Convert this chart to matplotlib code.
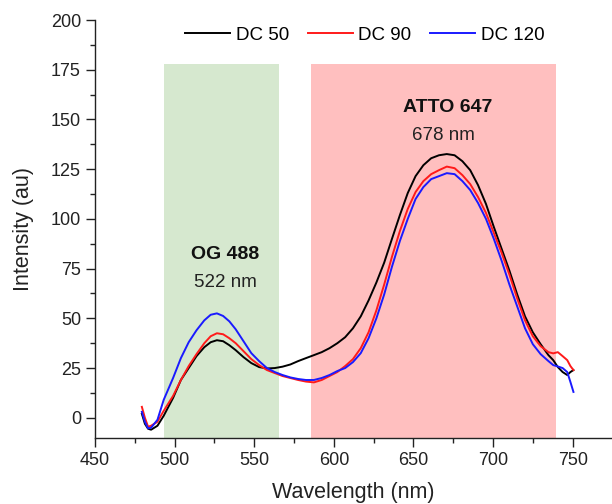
import matplotlib
matplotlib.use("Agg")
import matplotlib.pyplot as plt
from matplotlib.ticker import MultipleLocator

plt.rcParams['font.family'] = ['Liberation Sans', 'DejaVu Sans']

wavelength = [479.5, 481.4, 483.4, 485.3, 489.3, 493.2, 499.1, 504.0, 508.9, 513.8, 518.7, 522.7,
              526.6, 530.5, 534.4, 538.4, 543.3, 548.2, 553.1, 558.0, 562.9, 567.8, 572.7, 577.6,
              582.5, 587.5, 592.4, 597.3, 602.2, 607.1, 612.0, 616.9, 621.8, 626.7, 631.6, 636.5,
              641.5, 646.4, 651.3, 656.2, 661.1, 666.0, 670.9, 675.8, 680.7, 685.6, 690.5, 695.5,
              700.4, 705.3, 710.2, 715.1, 720.0, 724.9, 729.8, 734.7, 737.7, 740.6, 743.6, 746.5,
              748.5, 750.4]

dc50 = [2, -3, -5.5, -6, -4, 1, 10, 19, 25, 31, 35.5, 38, 39, 38.5, 36.5, 34,
        30.5, 27.5, 25.5, 24.8, 25, 25.7, 26.8, 28.5, 30, 31.5, 33, 35, 37.5, 40.5, 45, 51,
        59, 68, 78, 90, 102, 113, 121.5, 127, 130.5, 132, 132.6, 132, 129, 124.5, 117, 107.5,
        96, 85, 74, 62, 51, 43, 37, 31.5, 29, 25.5, 23, 21.5, 23, 24]

dc90 = [5.5, 0, -4.5, -4, -2, 3.5, 11, 19, 26, 32, 37.5, 41, 42.5, 42, 40, 37.5,
        33.5, 29.5, 26.5, 24, 22.5, 21, 20, 19, 18.2, 17.8, 19, 21, 23, 26, 29.5, 35,
        43, 54, 67, 81, 94, 105, 113.5, 119, 122.5, 124.5, 126.3, 125.5, 122, 117.5, 111, 103,
        93, 83, 72, 60, 49, 41, 36, 33, 32.4, 33, 31, 29, 26, 24]

dc120 = [3, -2, -5.3, -5, -1, 9, 20, 30, 38, 44, 49, 51.8, 52.5, 51.2, 48.5, 44.5,
         38.5, 32.5, 28.5, 25, 23, 21.5, 20.3, 19.5, 19, 19, 20, 21.5, 23.5, 25, 28, 32.5,
         40, 50, 62, 76, 89, 100, 110, 116, 120, 121.5, 123, 122.5, 119, 114.5, 108, 100,
         90, 79, 67, 56, 45, 37, 32, 28.5, 26.5, 25.8, 25, 23, 18, 13]

series_labels = ["DC 50", "DC 90", "DC 120"]
series_colors = ["black", "#ff1a1a", "#1a1aff"]

og_band = (493.4, 565.7)
atto_band = (585.9, 739.5)
band_top = 178

fig = plt.figure(figsize=(6.12, 5.04), dpi=100)
ax = fig.add_axes([0.155, 0.1316, 0.845, 0.8287])

ax.fill_between(og_band, -10, band_top, color="#d6e8cf", linewidth=0, zorder=0)
ax.fill_between(atto_band, -10, band_top, color="#ffbfbf", linewidth=0, zorder=0)

for ys, lab, col in zip([dc50, dc90, dc120], series_labels, series_colors):
    ax.plot(wavelength, ys, color=col, lw=1.4, label=lab, zorder=2)

ax.set_xlim(450, 774.6)
ax.set_ylim(-10, 200)
ax.xaxis.set_major_locator(MultipleLocator(50))
ax.xaxis.set_minor_locator(MultipleLocator(25))
ax.yaxis.set_major_locator(MultipleLocator(25))
ax.yaxis.set_minor_locator(MultipleLocator(12.5))
ax.tick_params(which='major', direction='out', length=6.5, width=1, labelsize=13, colors='#222222')
ax.tick_params(which='minor', direction='out', length=3.5, width=1, colors='#222222')
for s in ['top', 'right']:
    ax.spines[s].set_visible(False)
for s in ['left', 'bottom']:
    ax.spines[s].set_color('#222222')
    ax.spines[s].set_linewidth(1.0)

ax.set_xlabel("Wavelength (nm)", fontsize=15.5, color='#222222', labelpad=10)
ax.set_ylabel("Intensity (au)", fontsize=15.5, color='#222222', labelpad=12)

ax.text(531.7, 82, "OG 488", fontsize=14, fontweight='bold', ha='center', va='center', color='#111111')
ax.text(531.7, 68, "522 nm", fontsize=13.5, ha='center', va='center', color='#222222')
ax.text(671.6, 156, "ATTO 647", fontsize=14, fontweight='bold', ha='center', va='center', color='#111111')
ax.text(668.5, 142, "678 nm", fontsize=13.5, ha='center', va='center', color='#222222')

ax.legend(loc='center', bbox_to_anchor=(0.522, 0.964), ncol=3, frameon=False,
          fontsize=13.5, handlelength=2.4, handletextpad=0.3, columnspacing=1.0,
          borderaxespad=0)

fig.savefig("out.png", dpi=100)
